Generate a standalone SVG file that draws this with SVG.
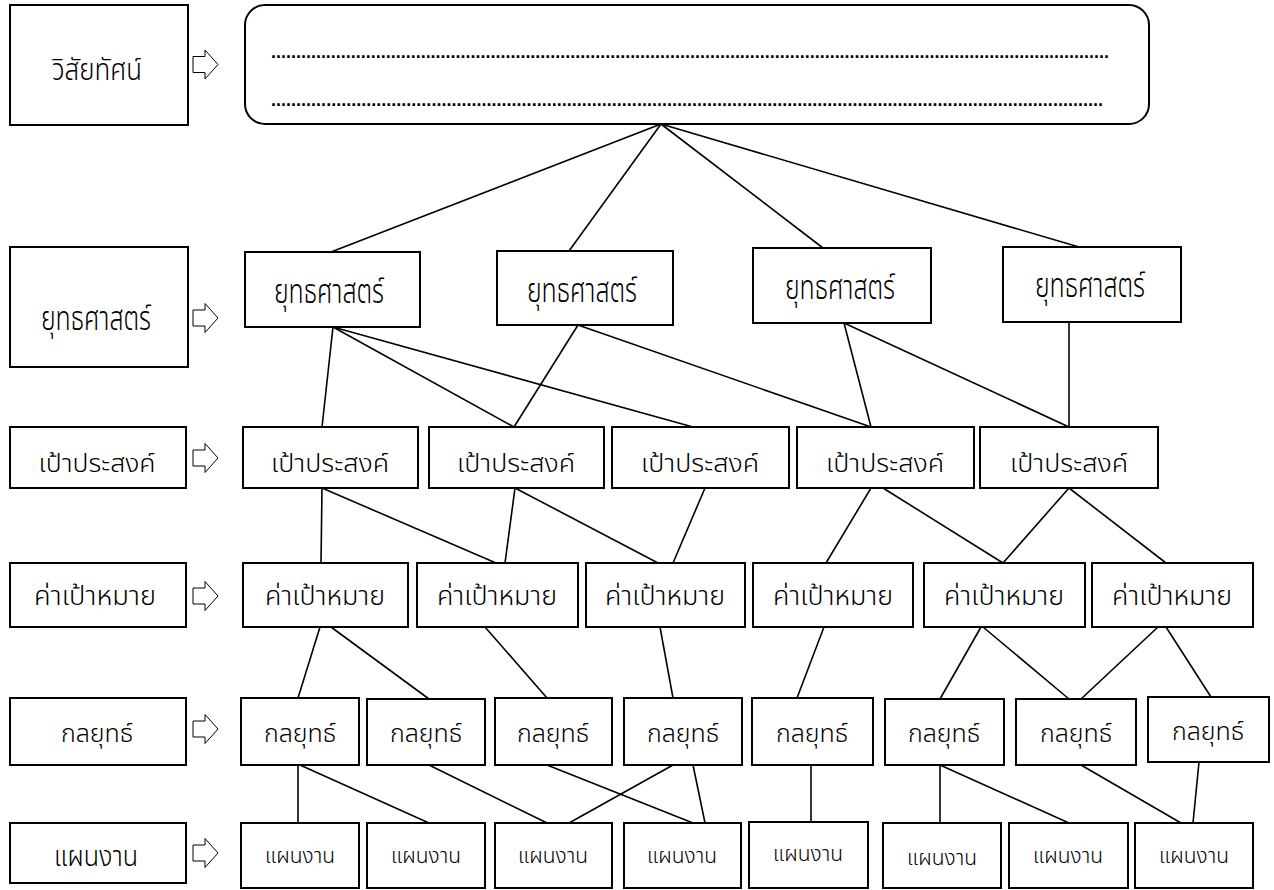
<svg xmlns="http://www.w3.org/2000/svg" width="1274" height="890" viewBox="0 0 1274 890">
<style>
.box{fill:#fff;stroke:#000;stroke-width:2}
.t{font-family:"Noto Sans Thai","Noto Sans","DejaVu Sans",sans-serif;font-weight:300;text-anchor:middle;fill:#000}
.dots{font-family:"Liberation Sans",sans-serif;font-size:18px;font-weight:bold;fill:#000}
.arr{fill:#fff;stroke:#000;stroke-width:1}
.ln{stroke:#000;stroke-width:1.6;fill:none}
.fv{font-size:30px}
.fs{font-size:33px}
.fp{font-size:24px}
.fk{font-size:26px}
.fg{font-size:25px}
.fwl{font-size:28px}
.fw{font-size:21px}
</style>
<defs>
<polygon id="arrow" class="arr" points="0,-8 12,-8 12,-14.5 25,0 12,14.5 12,8 0,8"/>
</defs>
<g id="connectors">
<line class="ln" x1="661" y1="124" x2="331" y2="252"/>
<line class="ln" x1="661" y1="124" x2="569" y2="251"/>
<line class="ln" x1="661" y1="124" x2="823" y2="248"/>
<line class="ln" x1="661" y1="124" x2="1079" y2="247"/>
<line class="ln" x1="333" y1="327" x2="322" y2="427"/>
<line class="ln" x1="333" y1="327" x2="514" y2="427"/>
<line class="ln" x1="333" y1="327" x2="693" y2="427"/>
<line class="ln" x1="578" y1="325" x2="514" y2="427"/>
<line class="ln" x1="578" y1="325" x2="871" y2="427"/>
<line class="ln" x1="844" y1="323" x2="871" y2="427"/>
<line class="ln" x1="844" y1="323" x2="1069" y2="427"/>
<line class="ln" x1="1069" y1="322" x2="1069" y2="427"/>
<line class="ln" x1="322" y1="488" x2="321" y2="563"/>
<line class="ln" x1="322" y1="488" x2="496" y2="563"/>
<line class="ln" x1="515" y1="488" x2="505" y2="563"/>
<line class="ln" x1="515" y1="488" x2="658" y2="563"/>
<line class="ln" x1="705" y1="488" x2="673" y2="563"/>
<line class="ln" x1="871" y1="488" x2="826" y2="563"/>
<line class="ln" x1="883" y1="488" x2="1003" y2="563"/>
<line class="ln" x1="1069" y1="488" x2="1003" y2="563"/>
<line class="ln" x1="1069" y1="488" x2="1166" y2="563"/>
<line class="ln" x1="320" y1="627" x2="298" y2="698"/>
<line class="ln" x1="331" y1="627" x2="429" y2="699"/>
<line class="ln" x1="485" y1="627" x2="547" y2="698"/>
<line class="ln" x1="660" y1="627" x2="673" y2="698"/>
<line class="ln" x1="824" y1="627" x2="797" y2="698"/>
<line class="ln" x1="981" y1="627" x2="940" y2="699"/>
<line class="ln" x1="983" y1="627" x2="1069" y2="699"/>
<line class="ln" x1="1158" y1="627" x2="1081" y2="699"/>
<line class="ln" x1="1166" y1="627" x2="1211" y2="697"/>
<line class="ln" x1="298" y1="765" x2="298" y2="823"/>
<line class="ln" x1="300" y1="765" x2="429" y2="823"/>
<line class="ln" x1="429" y1="765" x2="547" y2="823"/>
<line class="ln" x1="547" y1="765" x2="693" y2="823"/>
<line class="ln" x1="673" y1="765" x2="569" y2="823"/>
<line class="ln" x1="693" y1="765" x2="705" y2="823"/>
<line class="ln" x1="811" y1="765" x2="811" y2="822"/>
<line class="ln" x1="940" y1="765" x2="940" y2="823"/>
<line class="ln" x1="940" y1="765" x2="1069" y2="823"/>
<line class="ln" x1="1081" y1="765" x2="1181" y2="823"/>
<line class="ln" x1="1199" y1="762" x2="1193" y2="823"/>
</g>
<g id="level-labels">
<g id="lbl-vision"><rect class="box" x="10" y="5" width="178" height="120"/><text class="t fv" x="97" y="80" textLength="90" lengthAdjust="spacingAndGlyphs">วิสัยทัศน์</text><use href="#arrow" x="193" y="64.5"/></g>
<g id="lbl-strategy"><rect class="box" x="10" y="247" width="178" height="120"/><text class="t fs" x="96" y="330" textLength="110" lengthAdjust="spacingAndGlyphs">ยุทธศาสตร์</text><use href="#arrow" x="193" y="318"/></g>
<g id="lbl-goal"><rect class="box" x="10" y="427" width="176" height="61"/><text class="t fp" x="97" y="472" textLength="117" lengthAdjust="spacingAndGlyphs">เป้าประสงค์</text><use href="#arrow" x="193" y="458"/></g>
<g id="lbl-target"><rect class="box" x="10" y="563" width="176" height="64"/><text class="t fk" x="95" y="605" textLength="122" lengthAdjust="spacingAndGlyphs">ค่าเป้าหมาย</text><use href="#arrow" x="193" y="596"/></g>
<g id="lbl-tactic"><rect class="box" x="10" y="698" width="176" height="67"/><text class="t fg" x="97" y="742" textLength="72" lengthAdjust="spacingAndGlyphs">กลยุทธ์</text><use href="#arrow" x="193" y="729"/></g>
<g id="lbl-plan"><rect class="box" x="10" y="823" width="176" height="60"/><text class="t fwl" x="96" y="866" textLength="84" lengthAdjust="spacingAndGlyphs">แผนงาน</text><use href="#arrow" x="193" y="853"/></g>
</g>
<g id="vision"><rect class="box" x="245" y="5" width="904" height="119" rx="20" ry="20"/>
<text class="dots" x="271" y="58" textLength="838" lengthAdjust="spacing">........................................................................................................................................................................</text>
<text class="dots" x="271" y="106" textLength="832" lengthAdjust="spacing">......................................................................................................................................................................</text>
</g>
<g id="s1"><rect class="box" x="245" y="252" width="175" height="75"/><text class="t fs" x="329" y="303" textLength="110" lengthAdjust="spacingAndGlyphs">ยุทธศาสตร์</text></g>
<g id="s2"><rect class="box" x="497" y="251" width="176" height="74"/><text class="t fs" x="582" y="302" textLength="110" lengthAdjust="spacingAndGlyphs">ยุทธศาสตร์</text></g>
<g id="s3"><rect class="box" x="753" y="248" width="178" height="75"/><text class="t fs" x="840" y="299" textLength="110" lengthAdjust="spacingAndGlyphs">ยุทธศาสตร์</text></g>
<g id="s4"><rect class="box" x="1003" y="247" width="178" height="75"/><text class="t fs" x="1090" y="297" textLength="110" lengthAdjust="spacingAndGlyphs">ยุทธศาสตร์</text></g>
<g id="p1"><rect class="box" x="243" y="427" width="175" height="61"/><text class="t fp" x="330" y="472" textLength="118" lengthAdjust="spacingAndGlyphs">เป้าประสงค์</text></g>
<g id="p2"><rect class="box" x="429" y="427" width="175" height="61"/><text class="t fp" x="516" y="472" textLength="118" lengthAdjust="spacingAndGlyphs">เป้าประสงค์</text></g>
<g id="p3"><rect class="box" x="612" y="427" width="177" height="61"/><text class="t fp" x="700" y="472" textLength="118" lengthAdjust="spacingAndGlyphs">เป้าประสงค์</text></g>
<g id="p4"><rect class="box" x="797" y="427" width="177" height="61"/><text class="t fp" x="885" y="472" textLength="118" lengthAdjust="spacingAndGlyphs">เป้าประสงค์</text></g>
<g id="p5"><rect class="box" x="980" y="427" width="178" height="61"/><text class="t fp" x="1069" y="472" textLength="118" lengthAdjust="spacingAndGlyphs">เป้าประสงค์</text></g>
<g id="k1"><rect class="box" x="243" y="563" width="165" height="64"/><text class="t fk" x="325" y="605" textLength="120" lengthAdjust="spacingAndGlyphs">ค่าเป้าหมาย</text></g>
<g id="k2"><rect class="box" x="417" y="563" width="161" height="64"/><text class="t fk" x="497" y="605" textLength="120" lengthAdjust="spacingAndGlyphs">ค่าเป้าหมาย</text></g>
<g id="k3"><rect class="box" x="586" y="563" width="159" height="64"/><text class="t fk" x="665" y="605" textLength="120" lengthAdjust="spacingAndGlyphs">ค่าเป้าหมาย</text></g>
<g id="k4"><rect class="box" x="753" y="563" width="160" height="64"/><text class="t fk" x="833" y="605" textLength="120" lengthAdjust="spacingAndGlyphs">ค่าเป้าหมาย</text></g>
<g id="k5"><rect class="box" x="924" y="563" width="161" height="64"/><text class="t fk" x="1004" y="605" textLength="120" lengthAdjust="spacingAndGlyphs">ค่าเป้าหมาย</text></g>
<g id="k6"><rect class="box" x="1092" y="563" width="161" height="64"/><text class="t fk" x="1172" y="605" textLength="120" lengthAdjust="spacingAndGlyphs">ค่าเป้าหมาย</text></g>
<g id="g1"><rect class="box" x="241" y="698" width="118" height="67"/><text class="t fg" x="300" y="742" textLength="72" lengthAdjust="spacingAndGlyphs">กลยุทธ์</text></g>
<g id="g2"><rect class="box" x="367" y="699" width="118" height="66"/><text class="t fg" x="426" y="742" textLength="72" lengthAdjust="spacingAndGlyphs">กลยุทธ์</text></g>
<g id="g3"><rect class="box" x="495" y="698" width="117" height="67"/><text class="t fg" x="553" y="742" textLength="72" lengthAdjust="spacingAndGlyphs">กลยุทธ์</text></g>
<g id="g4"><rect class="box" x="624" y="698" width="118" height="67"/><text class="t fg" x="683" y="742" textLength="72" lengthAdjust="spacingAndGlyphs">กลยุทธ์</text></g>
<g id="g5"><rect class="box" x="752" y="698" width="121" height="67"/><text class="t fg" x="812" y="742" textLength="72" lengthAdjust="spacingAndGlyphs">กลยุทธ์</text></g>
<g id="g6"><rect class="box" x="885" y="699" width="119" height="66"/><text class="t fg" x="944" y="742" textLength="72" lengthAdjust="spacingAndGlyphs">กลยุทธ์</text></g>
<g id="g7"><rect class="box" x="1016" y="699" width="120" height="66"/><text class="t fg" x="1076" y="742" textLength="72" lengthAdjust="spacingAndGlyphs">กลยุทธ์</text></g>
<g id="g8"><rect class="box" x="1148" y="697" width="121" height="65"/><text class="t fg" x="1208" y="740" textLength="72" lengthAdjust="spacingAndGlyphs">กลยุทธ์</text></g>
<g id="w1"><rect class="box" x="241" y="823" width="118" height="65"/><text class="t fw" x="300" y="863" textLength="70" lengthAdjust="spacingAndGlyphs">แผนงาน</text></g>
<g id="w2"><rect class="box" x="367" y="823" width="118" height="65"/><text class="t fw" x="426" y="863" textLength="70" lengthAdjust="spacingAndGlyphs">แผนงาน</text></g>
<g id="w3"><rect class="box" x="495" y="823" width="117" height="65"/><text class="t fw" x="553" y="863" textLength="70" lengthAdjust="spacingAndGlyphs">แผนงาน</text></g>
<g id="w4"><rect class="box" x="624" y="823" width="117" height="65"/><text class="t fw" x="682" y="863" textLength="70" lengthAdjust="spacingAndGlyphs">แผนงาน</text></g>
<g id="w5"><rect class="box" x="749" y="822" width="119" height="66"/><text class="t fw" x="808" y="861" textLength="70" lengthAdjust="spacingAndGlyphs">แผนงาน</text></g>
<g id="w6"><rect class="box" x="883" y="823" width="118" height="65"/><text class="t fw" x="942" y="865" textLength="70" lengthAdjust="spacingAndGlyphs">แผนงาน</text></g>
<g id="w7"><rect class="box" x="1009" y="823" width="119" height="65"/><text class="t fw" x="1068" y="863" textLength="70" lengthAdjust="spacingAndGlyphs">แผนงาน</text></g>
<g id="w8"><rect class="box" x="1135" y="823" width="118" height="65"/><text class="t fw" x="1194" y="863" textLength="70" lengthAdjust="spacingAndGlyphs">แผนงาน</text></g>
</svg>
